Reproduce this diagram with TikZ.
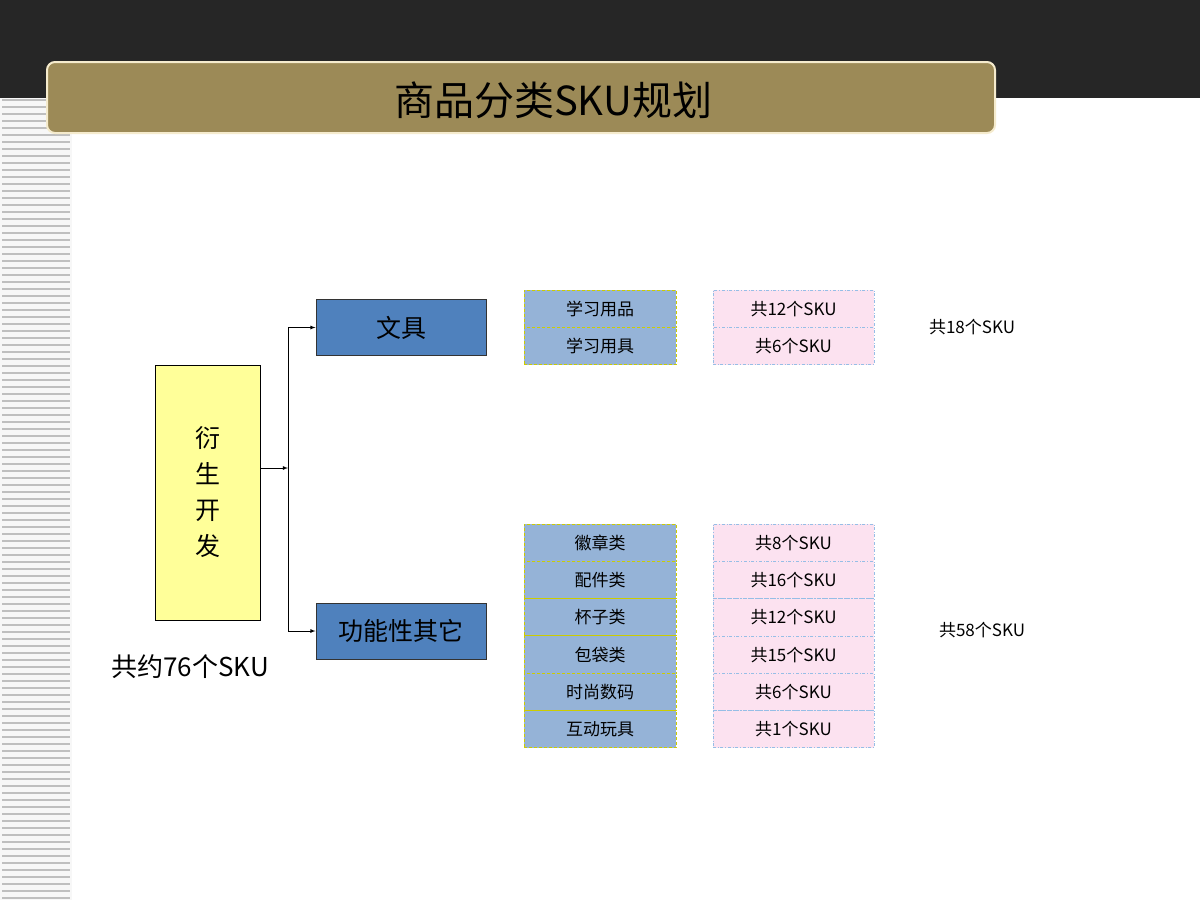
\documentclass[tikz,border=0pt]{standalone}
\usepackage{fontspec}
\setmainfont{Liberation Sans}
\newfontfamily\cjk{Noto Sans CJK SC}
\definecolor{cellblue}{RGB}{149,179,215}
\definecolor{cellpink}{RGB}{252,226,240}
\definecolor{pinkline}{RGB}{150,190,230}
\definecolor{boxblue}{RGB}{79,129,189}
\definecolor{titlegold}{RGB}{156,138,87}
\definecolor{titleedge}{RGB}{245,235,205}
\definecolor{rootyellow}{RGB}{255,255,153}
\definecolor{dashyellow}{RGB}{204,204,0}
\begin{document}
\begin{tikzpicture}[x=1pt,y=-1pt,
 bc/.style={draw=dashyellow,fill=cellblue,densely dashed,line width=1pt,minimum width=152pt,minimum height=37.3pt,inner sep=0pt,font=\cjk\fontsize{17}{17}\selectfont},
 pc/.style={draw=pinkline,fill=cellpink,dash dot,line width=0.8pt,minimum width=161pt,minimum height=37.3pt,inner sep=0pt,font=\cjk\fontsize{17}{17}\selectfont},
 blue/.style={draw=black!80,fill=boxblue,line width=1pt,minimum width=170pt,minimum height=56pt,inner sep=0pt,font=\cjk\fontsize{25}{25}\selectfont},
 arr/.style={-latex,line width=0.8pt}]
\useasboundingbox (0,0) rectangle (1200,900);
\fill[white] (0,0) rectangle (1200,900);
\fill[black!85] (0,0) rectangle (1200,98);
\fill[black!3] (0,98) rectangle (72,900);
\foreach \i in {0,...,114} \draw[black!25,line width=1.5pt] (2,100+\i*7) -- (70,100+\i*7);
\node[draw=titleedge,line width=2pt,fill=titlegold,rounded corners=8pt,minimum width=948pt,minimum height=71pt,inner sep=0pt] (title) at (521,97.5) {};
\node[font=\cjk\fontsize{40}{40}\selectfont] at (553,100) {商品分类SKU规划};
\node[draw=black,line width=1pt,fill=rootyellow,minimum width=105pt,minimum height=255pt,inner sep=0pt,align=center,font=\cjk\fontsize{25}{36}\selectfont] (root) at (207.5,492.5) {衍\\生\\开\\发};
\node[blue] (wj) at (401,327.5) {文具};
\node[blue] (gn) at (401,631) {功能性其它};
\coordinate (j) at (288,468);
\draw[arr] (root.east|-j) -- (j);
\draw[line width=0.8pt] (288,327.5) -- (288,631);
\draw[arr] (288,327.5) -- (wj.west);
\draw[arr] (288,631) -- (gn.west);
\node[font=\cjk\fontsize{26}{26}\selectfont] (tot) at (190,667) {共约76个SKU};
\foreach \t [count=\i] in {学习用品,学习用具} \node[bc] (b\i) at (600,{290+18.65+(\i-1)*37.3}) {\t};
\foreach \t [count=\i] in {共12个SKU,共6个SKU} \node[pc] (p\i) at (793.5,{290+18.65+(\i-1)*37.3}) {\t};
\foreach \t [count=\i] in {徽章类,配件类,杯子类,包袋类,时尚数码,互动玩具} \node[bc] (c\i) at (600,{524+18.65+(\i-1)*37.3}) {\t};
\foreach \t [count=\i] in {共8个SKU,共16个SKU,共12个SKU,共15个SKU,共6个SKU,共1个SKU} \node[pc] (q\i) at (793.5,{524+18.65+(\i-1)*37.3}) {\t};
\node[font=\cjk\fontsize{17}{17}\selectfont] (s1) at (972,327) {共18个SKU};
\node[font=\cjk\fontsize{17}{17}\selectfont] (s2) at (982,630) {共58个SKU};
\end{tikzpicture}
\end{document}
